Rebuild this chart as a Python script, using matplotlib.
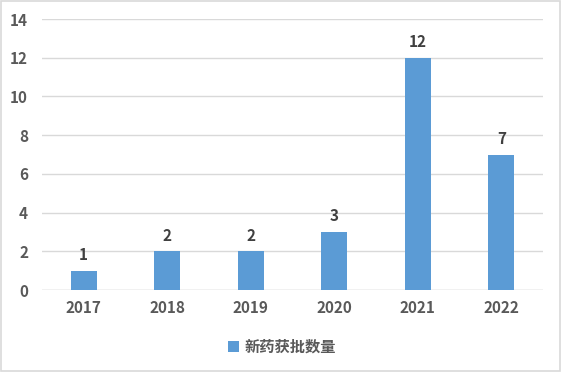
import matplotlib.pyplot as plt
from matplotlib.patches import Rectangle

plt.rcParams['font.family'] = ['Noto Sans CJK SC', 'DejaVu Sans']

years = ['2017', '2018', '2019', '2020', '2021', '2022']
counts = [1, 2, 2, 3, 12, 7]
series_name = '新药获批数量'

bar_color = '#5b9bd5'
grid_color = '#d9d9d9'
tick_color = '#595959'

fig = plt.figure(figsize=(5.62, 3.72), dpi=100)
ax = fig.add_axes([0.0747, 0.2204, 0.8915, 0.7285])

x = range(len(years))
bars = ax.bar(x, counts, width=0.31, color=bar_color, zorder=3, label=series_name)

for xi, v in zip(x, counts):
    ax.text(xi, v + 0.4, str(v), ha='center', va='bottom', fontsize=11,
            fontweight='bold', color='#404040')

ax.set_xlim(-0.5, len(years) - 0.5)
ax.set_ylim(0, 14)
ax.set_yticks(range(0, 15, 2))
ax.set_xticks(list(x))
ax.set_xticklabels(years)
ax.yaxis.grid(True, color=grid_color, linewidth=1, zorder=0)
for s in ax.spines.values():
    s.set_visible(False)
ax.axhline(0, color=grid_color, linewidth=1, zorder=2)
ax.tick_params(length=0, labelsize=11, labelcolor=tick_color)
ax.tick_params(axis='y', pad=10)
ax.tick_params(axis='x', pad=7)
for lbl in ax.get_xticklabels() + ax.get_yticklabels():
    lbl.set_fontweight('bold')

leg = fig.legend(handles=[bars], labels=[series_name], loc='center',
                 bbox_to_anchor=(0.502, 0.068), frameon=False, fontsize=11,
                 handlelength=0.7, handleheight=0.7, handletextpad=0.4)
for t in leg.get_texts():
    t.set_color(tick_color)
    t.set_fontweight('bold')

fig.patches.append(Rectangle((0.002, 0.003), 0.995, 0.994, transform=fig.transFigure,
                             fill=False, edgecolor='#d9d9d9', linewidth=1.2))

fig.savefig('out.png', dpi=100)
